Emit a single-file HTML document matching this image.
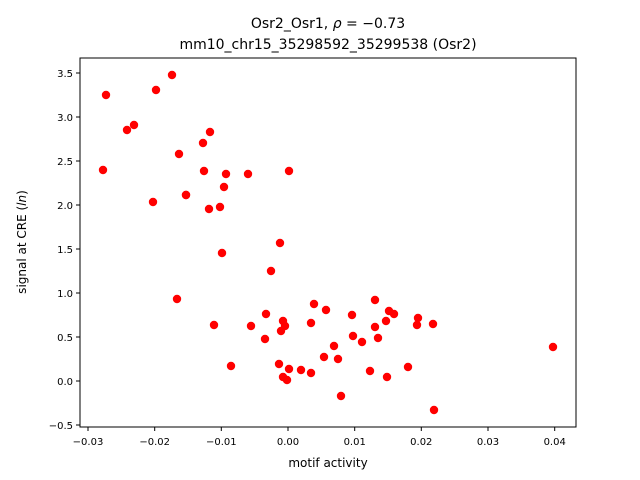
<!DOCTYPE html>
<html><head><meta charset="utf-8"><style>body{margin:0;background:#fff}svg{display:block}</style></head><body>
<svg width="640" height="480" xmlns="http://www.w3.org/2000/svg" font-family="DejaVu Sans, sans-serif">
<rect width="640" height="480" fill="#fff"/>
<g fill="#ff0000">
<circle cx="106" cy="95" r="4.2"/><circle cx="172" cy="75" r="4.2"/><circle cx="156" cy="90" r="4.2"/><circle cx="127" cy="130" r="4.2"/><circle cx="134" cy="125" r="4.2"/><circle cx="210" cy="132" r="4.2"/><circle cx="179" cy="154" r="4.2"/><circle cx="203" cy="143" r="4.2"/><circle cx="204" cy="171" r="4.2"/><circle cx="226" cy="174" r="4.2"/><circle cx="248" cy="174" r="4.2"/><circle cx="103" cy="170" r="4.2"/><circle cx="153" cy="202" r="4.2"/><circle cx="186" cy="195" r="4.2"/><circle cx="224" cy="187" r="4.2"/><circle cx="289" cy="171" r="4.2"/><circle cx="209" cy="209" r="4.2"/><circle cx="220" cy="207" r="4.2"/><circle cx="186" cy="195" r="4.2"/>
<circle cx="222" cy="253" r="4.2"/><circle cx="177" cy="299" r="4.2"/><circle cx="280" cy="243" r="4.2"/><circle cx="214" cy="325" r="4.2"/><circle cx="251" cy="326" r="4.2"/><circle cx="271" cy="271" r="4.2"/><circle cx="266" cy="314" r="4.2"/><circle cx="265" cy="339" r="4.2"/><circle cx="283" cy="321" r="4.2"/><circle cx="285" cy="326" r="4.2"/><circle cx="281" cy="331" r="4.2"/><circle cx="231" cy="366" r="4.2"/><circle cx="279" cy="364" r="4.2"/><circle cx="283" cy="377" r="4.2"/><circle cx="287" cy="380" r="4.2"/><circle cx="289" cy="369" r="4.2"/><circle cx="301" cy="370" r="4.2"/><circle cx="311" cy="373" r="4.2"/><circle cx="314" cy="304" r="4.2"/><circle cx="311" cy="323" r="4.2"/><circle cx="326" cy="310" r="4.2"/><circle cx="352" cy="315" r="4.2"/><circle cx="375" cy="327" r="4.2"/><circle cx="362" cy="342" r="4.2"/><circle cx="378" cy="338" r="4.2"/><circle cx="386" cy="321" r="4.2"/><circle cx="389" cy="311" r="4.2"/><circle cx="394" cy="314" r="4.2"/><circle cx="353" cy="336" r="4.2"/><circle cx="334" cy="346" r="4.2"/><circle cx="324" cy="357" r="4.2"/><circle cx="338" cy="359" r="4.2"/><circle cx="370" cy="371" r="4.2"/><circle cx="387" cy="377" r="4.2"/><circle cx="408" cy="367" r="4.2"/><circle cx="375" cy="300" r="4.2"/><circle cx="418" cy="318" r="4.2"/><circle cx="417" cy="325" r="4.2"/><circle cx="433" cy="324" r="4.2"/><circle cx="341" cy="396" r="4.2"/><circle cx="434" cy="410" r="4.2"/><circle cx="553" cy="347" r="4.2"/>
</g>
<rect x="80" y="58" width="496" height="369" fill="none" stroke="#000" stroke-width="1"/>
<g stroke="#000" stroke-width="1">
<line x1="88" y1="427" x2="88" y2="431"/><line x1="154.7" y1="427" x2="154.7" y2="431"/><line x1="221.3" y1="427" x2="221.3" y2="431"/><line x1="288" y1="427" x2="288" y2="431"/><line x1="354.7" y1="427" x2="354.7" y2="431"/><line x1="421.3" y1="427" x2="421.3" y2="431"/><line x1="488" y1="427" x2="488" y2="431"/><line x1="554.7" y1="427" x2="554.7" y2="431"/>
<line x1="76" y1="425" x2="80" y2="425"/><line x1="76" y1="381" x2="80" y2="381"/><line x1="76" y1="337" x2="80" y2="337"/><line x1="76" y1="293" x2="80" y2="293"/><line x1="76" y1="249" x2="80" y2="249"/><line x1="76" y1="205" x2="80" y2="205"/><line x1="76" y1="161" x2="80" y2="161"/><line x1="76" y1="117" x2="80" y2="117"/><line x1="76" y1="73" x2="80" y2="73"/>
</g>
<g font-size="10" text-anchor="middle" fill="#000">
<text x="88" y="445">−0.03</text><text x="154.7" y="445">−0.02</text><text x="221.3" y="445">−0.01</text><text x="288" y="445">0.00</text><text x="354.7" y="445">0.01</text><text x="421.3" y="445">0.02</text><text x="488" y="445">0.03</text><text x="554.7" y="445">0.04</text>
</g>
<g font-size="10" text-anchor="end" fill="#000">
<text x="73" y="429">−0.5</text><text x="73" y="385">0.0</text><text x="73" y="341">0.5</text><text x="73" y="297">1.0</text><text x="73" y="253">1.5</text><text x="73" y="209">2.0</text><text x="73" y="165">2.5</text><text x="73" y="121">3.0</text><text x="73" y="77">3.5</text>
</g>
<text x="328" y="467" font-size="12" text-anchor="middle">motif activity</text>
<text transform="translate(26,242) rotate(-90)" font-size="12" text-anchor="middle">signal at CRE (<tspan font-style="italic">ln</tspan>)</text>
<text x="328" y="28" font-size="14" text-anchor="middle">Osr2_Osr1, <tspan font-style="italic">ρ</tspan> = −0.73</text>
<text x="328" y="49" font-size="14" text-anchor="middle">mm10_chr15_35298592_35299538 (Osr2)</text>
</svg>
</body></html>
